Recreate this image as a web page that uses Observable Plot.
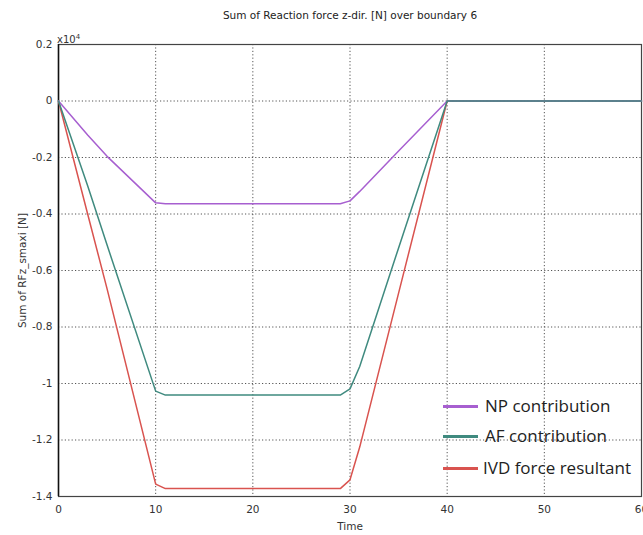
<!DOCTYPE html>
<html>
<head>
<meta charset="utf-8">
<script src="https://cdn.jsdelivr.net/npm/d3@7"></script>
<script src="https://cdn.jsdelivr.net/npm/@observablehq/plot@0.6"></script>
<style>
  html, body { margin: 0; padding: 0; background: #fff; }
  #wrap { position: relative; width: 643px; height: 535px; overflow: hidden; }
  .ov { position: absolute; white-space: nowrap; }
  #title { left: 0; width: 700px; top: 9px; text-align: center; font: 10.5px "DejaVu Sans", sans-serif; color: #222; }
  #exp { left: 57px; top: 33px; font: 10px "DejaVu Sans", sans-serif; color: #333; }
  #exp sup { font-size: 7px; vertical-align: 4px; }
  .leg { font: 17px "Open Sans", sans-serif; color: #222; }
  .sw { position: absolute; height: 3px; }
</style>
</head>
<body>
<div id="wrap">
  <div id="chart"></div>
</div>
<script>
// Data (values in N; axis shows x10^4)
const times = [0, 3, 5, 10, 11, 29, 30, 31, 35, 40, 60];
const npValues  = [0, -1200, -1960, -3606, -3640, -3640, -3535, -3200, -1770, 0, 0];
const afValues  = [0, -3000, -5100, -10270, -10410, -10410, -10190, -9400, -5200, 0, 0];
const ivdValues = [0, -4000, -6650, -13560, -13720, -13720, -13410, -12250, -6800, 0, 0];
const seriesNames = ["IVD force resultant", "NP contribution", "AF contribution"];
const seriesColors = ["#d9534f", "#a75fd0", "#3f8a7f"];
const xTicks = [0, 10, 20, 30, 40, 50, 60];
const yTicks = [2000, 0, -2000, -4000, -6000, -8000, -10000, -12000, -14000];
const xGrid = [10, 20, 30, 40, 50];
const yGrid = [0, -2000, -4000, -6000, -8000, -10000, -12000];

const seriesValues = [ivdValues, npValues, afValues];
const rows = [];
seriesNames.forEach((name, i) => {
  times.forEach((t, j) => rows.push({series: name, time: t, value: seriesValues[i][j]}));
});

const chart = Plot.plot({
  width: 643,
  height: 535,
  marginLeft: 58,
  marginRight: 2,
  marginTop: 44,
  marginBottom: 39,
  style: {fontFamily: "'DejaVu Sans', sans-serif", fontSize: "10.5px", color: "#333", background: "#fff"},
  x: {domain: [0, 60]},
  y: {domain: [-14000, 2000]},
  color: {domain: seriesNames, range: seriesColors},
  marks: [
    Plot.ruleX(xGrid, {stroke: "#555", strokeDasharray: "1.2,2.2", strokeWidth: 1}),
    Plot.ruleY(yGrid, {stroke: "#555", strokeDasharray: "1.2,2.2", strokeWidth: 1}),
    Plot.frame({stroke: "#444", strokeWidth: 1.2}),
    Plot.ruleX([0], {stroke: "#111", strokeWidth: 1.5}),
    Plot.line(rows, {x: "time", y: "value", z: "series", stroke: "series", strokeWidth: 1.5}),
    Plot.axisX({ticks: xTicks, tickSize: 0, tickPadding: 9, tickFormat: d => String(d), label: "Time", labelAnchor: "center", labelArrow: "none", labelOffset: 33}),
    Plot.axisY({ticks: yTicks, tickSize: 0, tickPadding: 6, tickFormat: d => String(d / 1e4), label: "Sum of RFz_smaxi [N]", labelAnchor: "center", labelArrow: "none", labelOffset: 40})
  ]
});
document.getElementById("chart").appendChild(chart);

const wrap = document.getElementById("wrap");
function addOv(html, cls, id) {
  const d = document.createElement("div");
  d.className = "ov " + (cls || "");
  if (id) d.id = id;
  d.innerHTML = html;
  wrap.appendChild(d);
  return d;
}
addOv("Sum of Reaction force z-dir. [N] over boundary 6", "", "title");
addOv("x10<sup>4</sup>", "", "exp");

// Legend
const legendOrder = ["NP contribution", "AF contribution", "IVD force resultant"];
const legendTops = [394, 424, 456];
legendOrder.forEach((name, i) => {
  const col = seriesColors[seriesNames.indexOf(name)];
  const sw = document.createElement("div");
  sw.className = "sw";
  sw.style.left = "443px";
  sw.style.top = (legendTops[i] + 11) + "px";
  sw.style.width = "35px";
  sw.style.background = col;
  wrap.appendChild(sw);
  const t = addOv(name, "leg");
  t.style.left = (i === 2 ? 483 : 485) + "px";
  t.style.top = legendTops[i] + "px";
});
</script>
</body>
</html>
